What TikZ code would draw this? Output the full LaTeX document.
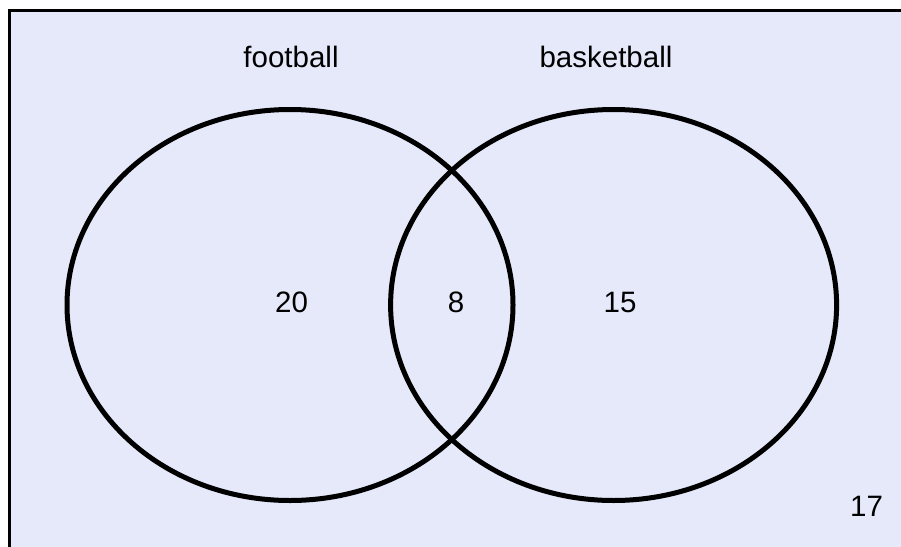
\documentclass[tikz,border=0pt]{standalone}
\usepackage{fontspec}
\setmainfont{Liberation Sans}
\usetikzlibrary{shapes.geometric}
\definecolor{bgblue}{RGB}{230,233,250}

\begin{document}
\begin{tikzpicture}[
    x=1pt, y=-1pt,
    font=\fontsize{29.5}{34}\selectfont,
    setcircle/.style={ellipse, draw=black, line width=5pt, inner sep=0pt,
                      minimum width=446pt, minimum height=391pt},
    setlabel/.style={anchor=base, inner sep=0pt},
    count/.style={anchor=base, inner sep=0pt},
  ]
  \useasboundingbox (0,0) rectangle (901,546);
  % universe
  \fill[bgblue] (9.5,10.5) rectangle (903,548);
  \draw[line width=3pt] (9.5,548) -- (9.5,10.5) -- (903,10.5);

  % the two sets
  \node[setcircle] (F) at (290,305) {};
  \node[setcircle] (B) at (613.6,305) {};

  \node[setlabel] (Flab) at (291,67) {football};
  \node[setlabel] (Blab) at (606,67) {basketball};

  \node[count] (onlyF) at (291.5,312.5) {20};
  \node[count] (both)  at (456,312.5) {8};
  \node[count] (onlyB) at (620,312.5) {15};
  \node[count] (none)  at (866.5,516.5) {17};
\end{tikzpicture}
\end{document}
